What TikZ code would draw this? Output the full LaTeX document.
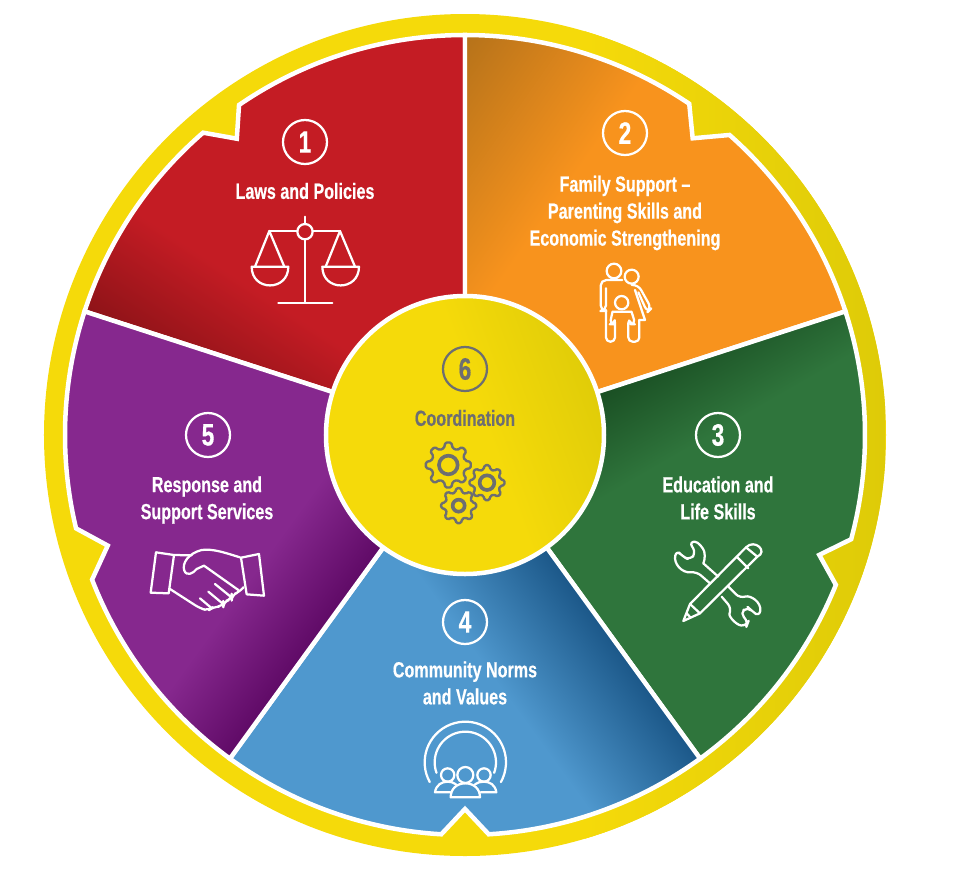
\documentclass[tikz,border=0pt]{standalone}
\usepackage{fontspec}
\setmainfont{Liberation Sans}[FakeStretch=0.735,BoldFeatures={FakeBold=0.4}]
\definecolor{ringL}{HTML}{F5DA0A}
\definecolor{ringD}{HTML}{DECB08}
\definecolor{redB}{HTML}{C41C24}
\definecolor{redD}{HTML}{8E1318}
\definecolor{orgB}{HTML}{F8931D}
\definecolor{orgD}{HTML}{B5721A}
\definecolor{grnB}{HTML}{2F753C}
\definecolor{grnD}{HTML}{174A20}
\definecolor{bluB}{HTML}{4F98CE}
\definecolor{bluD}{HTML}{1B5788}
\definecolor{purB}{HTML}{86288E}
\definecolor{purD}{HTML}{5F0A66}
\definecolor{txtG}{HTML}{6D6E71}
\tikzset{
    zoomed/.style 2 args={shift={(#1-465,435-#2)},x=0.008333cm,y=-0.008333cm},
    ICO/.style ={draw=white,line width=1.6pt,line join=round,line cap=round},
    GR/.style ={draw=txtG,line width=1.7pt,line join=round},
    NUM/.style ={circle,draw=white,text=white,line width=1.6pt,minimum size=1.1cm,inner sep=0pt,font=\fontsize{22}{24}\selectfont\bfseries},
    LAB/.style ={text=white,align=center,inner sep=0pt,font=\fontsize{15.6}{19.2}\selectfont\bfseries}}
% gear: x, y, outer, root, teeth, hub
\newcommand\gearicon[6]{%
    \begin{scope}[shift={(#1,#2)}]
        \pgfmathsetmacro\gstep{360/#5}
        \draw[GR,rounded corners=1pt] ({-.32*\gstep}:#4) \foreach \g in {1,...,#5}{
            -- ({(\g-1-.17)*\gstep}:#3) -- ({(\g-1+.17)*\gstep}:#3)
            -- ({(\g-1+.32)*\gstep}:#4) -- ({(\g-.32)*\gstep}:#4)} -- cycle;
        \draw[draw=txtG,line width=2.6pt] (0,0) circle (#6);
    \end{scope}}
% soft dark edge inside the current clip: x, y, angle, length, dark, base
\newcommand\glow[6]{%
    \shade[transform canvas={rotate around={#3:(#1,#2)}},left color=#5,right color=#6]
        (#1,#2-700) rectangle (#1+#4,#2+700);}
\begin{document}
\begin{tikzpicture}[x=0.025cm,y=0.025cm]
    \useasboundingbox (-465,-449) rectangle (515,435);
    % outer ring
    \begin{scope}
        \clip (0,0) circle (421);
        \fill[ringL] (-430,-430) rectangle (430,430);
        \glow{120}{0}{0}{300}{ringL}{ringD}
    \end{scope}
    % five segments
    \foreach \sA/\sB/\sC/\sD/\sE/\base/\dark/\gx/\gy/\gang/\glen in {
        90/124.4/127.6/130.9/162/redB/redD/-377/123/57/110,
        18/48.6/52.5/55.9/90/orgB/orgD/0/400/-35/170,
        -54/-22/-18.7/-15.1/18/grnB/grnD/140/60/-60/105,
        -126/-93.4/-90/-86.6/-54/bluB/bluD/150/-206/216/120,
        162/193.5/197.2/201.2/234/purB/purD/-100/-138/144/90}{
        \def\segpath{(0,0) -- (\sA:400) arc[start angle=\sA,end angle=\sB,radius=400]
            -- (\sC:374) -- (\sD:400) arc[start angle=\sD,end angle=\sE,radius=400] -- cycle}
        \begin{scope}
            \clip \segpath;
            \fill[\base] (-430,-430) rectangle (430,430);
            \glow{\gx}{\gy}{\gang}{\glen}{\dark}{\base}
        \end{scope}
        \draw[white,line width=3.2pt,line join=miter] \segpath;
    }
    % centre disc
    \begin{scope}
        \clip (0,0) circle (139);
        \fill[ringL] (-140,-140) rectangle (140,140);
        \glow{140}{60}{200}{130}{ringD}{ringL}
    \end{scope}
    \draw[white,line width=3.2pt] (0,0) circle (139);
    % numbers and labels
    \node[NUM] (num1) at (-160,293) {1};
    \node[NUM] (num2) at (160,302) {2};
    \node[NUM] (num3) at (253,0) {3};
    \node[NUM] (num4) at (0,-187) {4};
    \node[NUM] (num5) at (-257,0) {5};
    \node[NUM,draw=txtG,text=txtG] (num6) at (0,66) {6};
    \node[LAB] (lab1) at (-160,244) {Laws and Policies};
    \node[LAB] (lab2) at (160,222) {Family Support --\\Parenting Skills and\\Economic Strengthening};
    \node[LAB] (lab3) at (253,-63) {Education and\\Life Skills};
    \node[LAB] (lab4) at (0,-248) {Community Norms\\and Values};
    \node[LAB] (lab5) at (-258,-65) {Response and\\Support Services};
    \node[LAB,text=txtG] (lab6) at (0,17) {Coordination};
    % scales
    \begin{scope}[zoomed={220}{20}]
        \draw[ICO] (255,590) -- (255,612) (255,658) -- (255,848) (175,848) -- (337,848);
        \draw[ICO] (255,635) circle (23);
        \draw[ICO] (148,633) -- (232,633) (278,633) -- (360,633);
        \draw[ICO] (105,740) -- (148,633) -- (193,740) (317,740) -- (360,633) -- (405,740);
        \draw[ICO] (95,740) -- (205,740) .. controls (205,815) and (95,815) .. cycle;
        \draw[ICO] (307,740) -- (417,740) .. controls (417,815) and (307,815) .. cycle;
    \end{scope}
    % family
    \begin{scope}[zoomed={590}{255}]
        \draw[ICO] (72,48) circle (22) (125,65) circle (21) (95,143) circle (20);
        \draw[ICO,rounded corners=4pt] (48,100) -- (48,168) -- (32,168) -- (32,75) -- (97,75);
        \draw[ICO,rounded corners=3pt] (48,165) -- (48,260) -- (75,260) -- (75,192) -- (72,208) -- (60,208)
            .. controls (64,185) and (68,170) .. (80,170) -- (112,170) .. controls (124,170) and (130,185) .. (135,208)
            -- (122,208) -- (115,192) -- (115,260) -- (148,260) -- (148,195);
        \draw[ICO] (148,195) -- (165,195) -- (135,105);
        \draw[ICO,rounded corners=4pt] (125,90) -- (145,90) -- (184,160) -- (172,172) -- (145,112);
    \end{scope}
    % pencil and spanner
    \begin{scope}[zoomed={640}{400}]
        \draw[ICO] (130,663) -- (150,612) -- (318,442) .. controls (345,415) and (385,455) .. (352,470) -- (180,640) -- cycle;
        \draw[ICO] (150,612) -- (180,640) (290,470) -- (325,505) (318,442) -- (352,470) (140,640) -- (152,653);
        \draw[ICO,rounded corners=4pt] (190,490) -- (197,470) .. controls (190,445) and (175,425) .. (147,425) -- (168,458) -- (150,480) -- (128,470) -- (110,450) .. controls (100,490) and (125,520) .. (170,515) -- (210,550);
        \draw[ICO,rounded corners=4pt] (190,490) -- (235,530);
        \draw[ICO,rounded corners=4pt] (265,560) -- (300,595) .. controls (330,585) and (365,605) .. (358,650) -- (335,632) -- (322,620) -- (300,640) -- (325,665) -- (320,678) .. controls (290,675) and (265,650) .. (275,625) -- (245,590);
    \end{scope}
    % people under arches
    \begin{scope}[zoomed={360}{600}]
        \draw[ICO] plot[domain=-29:209,samples=40] ({316+122*cos(\x)},{487-122*sin(\x)});
        \draw[ICO] plot[domain=-20:200,samples=40] ({316+92*cos(\x)},{487-92*sin(\x)});
        \draw[ICO,fill=bluB] (263,525) circle (20) (372,525) circle (20);
        \draw[ICO] (272,577) -- (225,577) .. controls (228,555) and (245,545) .. (263,545) .. controls (272,545) and (280,547) .. (288,553);
        \draw[ICO] (362,577) -- (409,577) .. controls (406,555) and (390,545) .. (372,545) .. controls (362,545) and (352,547) .. (345,553);
        \draw[ICO] (316,525) circle (24);
        \draw[ICO] (272,592) -- (360,592) .. controls (360,565) and (340,550) .. (316,550) .. controls (292,550) and (272,565) .. cycle;
    \end{scope}
    % handshake
    \begin{scope}[zoomed={60}{400}]
        \draw[ICO] (288,457) -- (342,465) -- (326,580) -- (272,578) -- cycle;
        \draw[ICO] (543,473) -- (597,462) -- (612,587) -- (560,583) -- cycle;
        \draw[ICO] (342,465) -- (395,466);
        \draw[ICO] (540,472) .. controls (500,460) and (460,445) .. (425,450) .. controls (385,460) and (365,490) .. (373,512) .. controls (380,530) and (400,520) .. (410,507) -- (432,497) -- (535,570);
        \draw[ICO,rounded corners=4pt] (330,567) -- (420,625) -- (445,632) -- (460,620) -- (490,620) -- (490,605) -- (515,598) -- (515,585) -- (540,575) -- (548,565);
        \draw[ICO] (420,595) -- (452,622) (445,575) -- (487,610) (465,552) -- (512,590);
    \end{scope}
    % gears
    \begin{scope}[zoomed={330}{310}]
        \gearicon{355}{465}{68}{52}{8}{28}
        \gearicon{471}{518}{53}{41}{8}{22}
        \gearicon{386}{587}{53}{41}{8}{18}
    \end{scope}
\end{tikzpicture}
\end{document}
